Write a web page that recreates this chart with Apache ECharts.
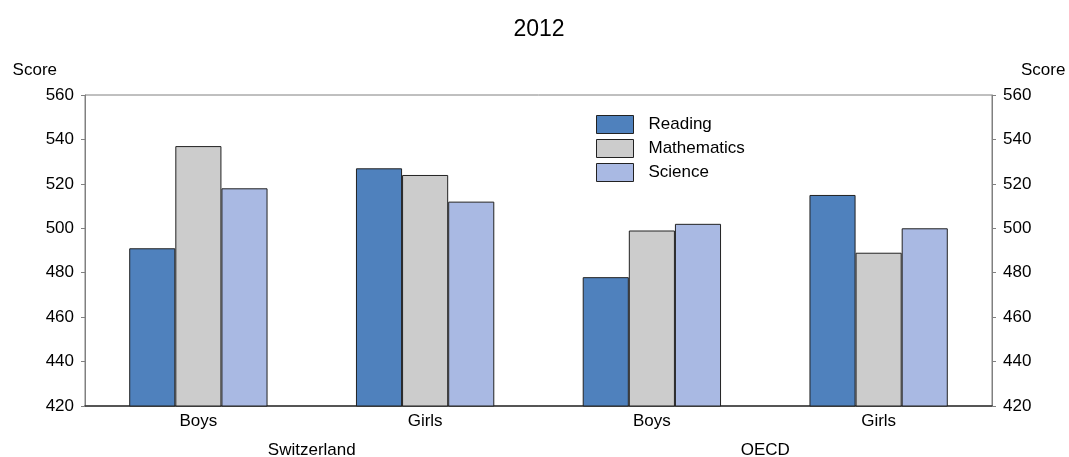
<!DOCTYPE html>
<html>
<head>
<meta charset="utf-8">
<script src="https://cdn.jsdelivr.net/npm/echarts@6/dist/echarts.min.js"></script>
<style>html,body{margin:0;padding:0;background:#fff}#c{width:1069px;height:457px}</style>
</head>
<body>
<div id="c"></div>
<script>
const groups = ['Boys', 'Girls', 'Boys', 'Girls'];
const regions = ['Switzerland', 'OECD'];
const reading = [491, 527, 478, 515];
const mathematics = [537, 524, 499, 489];
const science = [518, 512, 502, 500];
const yTicks = [420, 440, 460, 480, 500, 520, 540, 560];

const font = 'Liberation Sans, Arial, sans-serif';
const chart = echarts.init(document.getElementById('c'));
const yAxisBase = {
  type: 'value', min: yTicks[0], max: yTicks[yTicks.length - 1], interval: 20,
  name: 'Score', nameLocation: 'end', nameGap: 25,
  axisLine: { show: true, lineStyle: { color: '#808080', width: 1 } },
  axisTick: { show: true, length: 4, lineStyle: { color: '#808080' } },
  splitLine: { show: false },
  axisLabel: { color: '#000', fontSize: 17, fontFamily: font, margin: 11 }
};
chart.setOption({
  animation: false,
  title: { text: '2012', left: 539, top: 18, padding: 0, textAlign: 'center',
    textStyle: { fontSize: 23, fontWeight: 'normal', color: '#000', fontFamily: font } },
  legend: {
    orient: 'vertical', left: 596, top: 115, padding: 0, itemWidth: 37, itemHeight: 18, itemGap: 5,
    textStyle: { fontSize: 17, color: '#000', fontFamily: font, padding: [0, 0, 0, 10] },
    icon: 'rect', itemStyle: { borderColor: '#222', borderWidth: 1 }
  },
  grid: { left: 85, right: 77, top: 95, bottom: 51, show: true, borderColor: '#808080', borderWidth: 1,
    containLabel: false, outerBoundsMode: 'none' },
  xAxis: [
    { type: 'category', data: groups, position: 'bottom',
      axisLine: { show: true, lineStyle: { color: '#333', width: 1.5 } },
      axisTick: { show: false },
      axisLabel: { color: '#000', fontSize: 17, fontFamily: font, margin: 7 } },
    { type: 'category', data: regions, position: 'bottom', offset: 29,
      axisLine: { show: false }, axisTick: { show: false },
      axisLabel: { color: '#000', fontSize: 17, fontFamily: font, margin: 7 } }
  ],
  yAxis: [
    Object.assign({}, yAxisBase, { position: 'left',
      nameTextStyle: { color: '#000', fontSize: 17, fontFamily: font, align: 'right', verticalAlign: 'middle', padding: [0, 28, 0, 0] } }),
    Object.assign({}, yAxisBase, { position: 'right',
      nameTextStyle: { color: '#000', fontSize: 17, fontFamily: font, align: 'left', verticalAlign: 'middle', padding: [0, 0, 0, 29] } })
  ],
  series: [
    { name: 'Reading', type: 'bar', data: reading, barGap: '0%', barCategoryGap: '39%',
      itemStyle: { color: '#4f81bd', borderColor: '#222', borderWidth: 1 } },
    { name: 'Mathematics', type: 'bar', data: mathematics,
      itemStyle: { color: '#cccccc', borderColor: '#222', borderWidth: 1 } },
    { name: 'Science', type: 'bar', data: science,
      itemStyle: { color: '#a9b9e3', borderColor: '#222', borderWidth: 1 } }
  ]
});
</script>
</body>
</html>
